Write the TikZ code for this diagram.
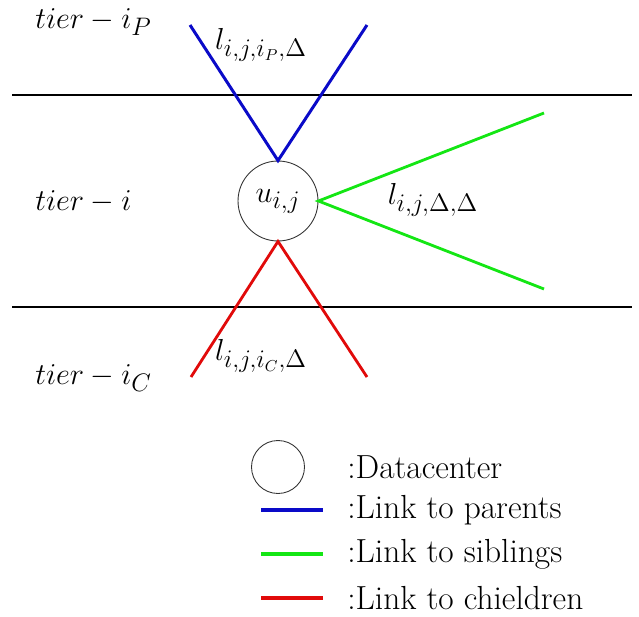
\documentclass[tikz,border=0pt]{standalone}
\usepackage{amsmath,amssymb}
\usepackage{tikz}
\usetikzlibrary{positioning}
\definecolor{linkblue}{RGB}{10,10,200}
\definecolor{linkgreen}{RGB}{20,230,20}
\definecolor{linkred}{RGB}{225,10,10}
\tikzset{
  dcnode/.style={circle, draw=black!80, line width=0.5pt, minimum size=1.6cm,
                 inner sep=0pt, font=\fontsize{19}{23}\selectfont},
  dclegend/.style={dcnode, minimum size=1.06cm},
  tierlab/.style={anchor=west, inner sep=0pt, font=\fontsize{19}{23}\selectfont},
  linklab/.style={inner sep=0pt, font=\fontsize{19}{23}\selectfont},
  legtext/.style={anchor=west, inner sep=0pt, font=\fontsize{19}{23}\selectfont},
  tierline/.style={line width=0.6pt, black},
  plink/.style={line width=1.7pt, linkblue},
  slink/.style={line width=1.6pt, linkgreen},
  clink/.style={line width=1.6pt, linkred},
  keyline/.style={line width=2.3pt},
}
\begin{document}
\begin{tikzpicture}[x=0.02cm, y=-0.02cm]
  \useasboundingbox (0,0) rectangle (639,616);
  % tier borders
  \coordinate (b1l) at (12,95);  \coordinate (b1r) at (632,95);
  \coordinate (b2l) at (12,307); \coordinate (b2r) at (632,307);
  \draw[tierline] (b1l) -- (b1r);
  \draw[tierline] (b2l) -- (b2r);
  % tiers
  \node[tierlab] (tP) at (35,22)  {$tier-i_P$};
  \node[tierlab] (tI) at (35,202) {$tier-i$};
  \node[tierlab] (tC) at (35,378) {$tier-i_C$};
  % the datacenter and its links
  \node[dcnode] (u) at (278,201) {$u_{i,j}$};
  \coordinate (pl) at (190,25);  \coordinate (pr) at (367,25);
  \coordinate (su) at (544,113); \coordinate (sd) at (544,289);
  \coordinate (cl) at (191,377); \coordinate (cr) at (367,377);
  \draw[plink] (pl) -- (u.north) -- (pr);
  \draw[slink] (su) -- (u.east) -- (sd);
  \draw[clink] (cl) -- (u.south) -- (cr);
  \node[linklab] (lP) at (261,45)  {$l_{i,j,i_P,\Delta}$};
  \node[linklab] (lS) at (433,200) {$l_{i,j,\Delta,\Delta}$};
  \node[linklab] (lC) at (261,356) {$l_{i,j,i_C,\Delta}$};
  % legend
  \node[dclegend] (kdc) at (278,467) {};
  \coordinate (kp1) at (261,510); \coordinate (kp2) at (323,510);
  \coordinate (ks1) at (261,554); \coordinate (ks2) at (323,554);
  \coordinate (kc1) at (261,598); \coordinate (kc2) at (323,598);
  \draw[plink, keyline] (kp1) -- (kp2);
  \draw[slink, keyline] (ks1) -- (ks2);
  \draw[clink, keyline] (kc1) -- (kc2);
  \node[legtext] (tdc) at (347,467) {:Datacenter};
  \node[legtext] (tp)  at (347,510) {:Link to parents};
  \node[legtext] (ts)  at (347,554) {:Link to siblings};
  \node[legtext] (tc)  at (347,598) {:Link to chieldren};
\end{tikzpicture}
\end{document}
